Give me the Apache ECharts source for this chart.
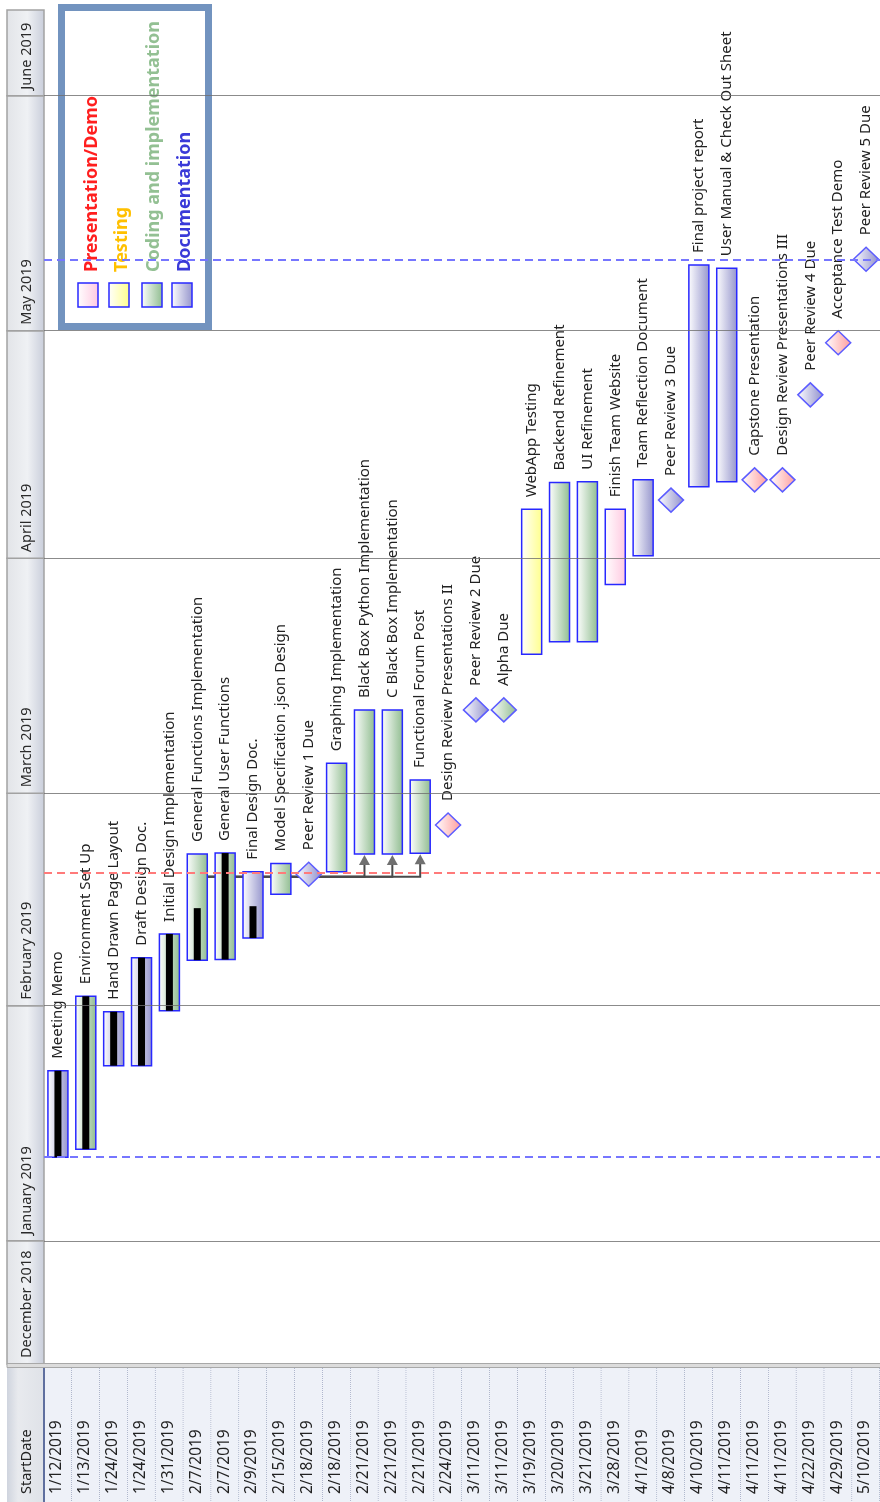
<!DOCTYPE html>
<html>
<head>
<meta charset="UTF-8">
<script src="https://cdn.jsdelivr.net/npm/echarts@6/dist/echarts.min.js"></script>
<style>
  html, body { margin: 0; padding: 0; background: #fff; }
  #main { width: 880px; height: 1502px; }
</style>
</head>
<body>
<div id="main"></div>
<script>
// ---- data ----
var taskNames = [
  'Meeting Memo', 'Environment Set Up', 'Hand Drawn Page Layout', 'Draft Design Doc.',
  'Initial Design Implementation', 'General Functions Implementation', 'General User Functions',
  'Final Design Doc.', 'Model Specification .json Design', 'Peer Review 1 Due',
  'Graphing Implementation', 'Black Box Python Implementation', 'C Black Box Implementation',
  'Functional Forum Post', 'Design Review Presentations II', 'Peer Review 2 Due', 'Alpha Due',
  'WebApp Testing', 'Backend Refinement', 'UI Refinement', 'Finish Team Website',
  'Team Reflection Document', 'Peer Review 3 Due', 'Final project report',
  'User Manual & Check Out Sheet', 'Capstone Presentation', 'Design Review Presentations III',
  'Peer Review 4 Due', 'Acceptance Test Demo', 'Peer Review 5 Due'
];
var startLabels = [
  '1/12/2019', '1/13/2019', '1/24/2019', '1/24/2019', '1/31/2019', '2/7/2019', '2/7/2019',
  '2/9/2019', '2/15/2019', '2/18/2019', '2/18/2019', '2/21/2019', '2/21/2019', '2/21/2019',
  '2/24/2019', '3/11/2019', '3/11/2019', '3/19/2019', '3/20/2019', '3/21/2019', '3/28/2019',
  '4/1/2019', '4/8/2019', '4/10/2019', '4/11/2019', '4/11/2019', '4/11/2019', '4/22/2019',
  '4/29/2019', '5/10/2019'
];
var starts = [
  '2019-01-12 00:00', '2019-01-13 02:00', '2019-01-24 02:00', '2019-01-24 02:00', '2019-01-31 08:00',
  '2019-02-07 00:00', '2019-02-07 02:00', '2019-02-09 22:00', '2019-02-15 17:00', '2019-02-18 08:00',
  '2019-02-18 16:00', '2019-02-21 00:00', '2019-02-21 00:00', '2019-02-21 02:00', '2019-02-24 20:00',
  '2019-03-12 00:00', '2019-03-12 00:00', '2019-03-19 08:00', '2019-03-21 00:00', '2019-03-21 00:00',
  '2019-03-28 13:00', '2019-04-01 08:00', '2019-04-08 16:00', '2019-04-10 10:00', '2019-04-11 02:00',
  '2019-04-11 08:00', '2019-04-11 08:00', '2019-04-22 13:00', '2019-04-29 10:00', '2019-05-10 10:00'
];
var ends = [
  '2019-01-23 10:00', '2019-02-02 06:00', '2019-01-31 05:00', '2019-02-07 08:00', '2019-02-10 11:00',
  '2019-02-21 00:00', '2019-02-21 03:00', '2019-02-18 16:00', '2019-02-19 18:00', '2019-02-18 08:00',
  '2019-03-04 23:00', '2019-03-12 00:00', '2019-03-12 00:00', '2019-03-02 18:00', '2019-02-24 20:00',
  '2019-03-12 00:00', '2019-03-12 00:00', '2019-04-07 11:00', '2019-04-11 00:00', '2019-04-11 02:00',
  '2019-04-07 11:00', '2019-04-11 08:00', '2019-04-08 16:00', '2019-05-09 16:00', '2019-05-09 06:00',
  '2019-04-11 08:00', '2019-04-11 08:00', '2019-04-22 13:00', '2019-04-29 10:00', '2019-05-10 10:00'
];
// 'bar' = task, 'ms' = milestone
var kinds = [
  'bar', 'bar', 'bar', 'bar', 'bar', 'bar', 'bar', 'bar', 'bar', 'ms',
  'bar', 'bar', 'bar', 'bar', 'ms', 'ms', 'ms', 'bar', 'bar', 'bar',
  'bar', 'bar', 'ms', 'bar', 'bar', 'ms', 'ms', 'ms', 'ms', 'ms'
];
// index into legendNames
var groups = [
  3, 2, 3, 3, 2, 2, 2, 3, 2, 3,
  2, 2, 2, 2, 0, 3, 2, 1, 2, 2,
  0, 3, 3, 3, 3, 0, 0, 3, 0, 3
];
var progress = [100, 100, 100, 100, 100, 49, 100, 48, 0, 0,
  0, 0, 0, 0, 0, 0, 0, 0, 0, 0, 0, 0, 0, 0, 0, 0, 0, 0, 0, 0];
var legendNames = ['Presentation/Demo', 'Testing', 'Coding and implementation', 'Documentation'];
var monthNames = ['December 2018', 'January 2019', 'February 2019', 'March 2019', 'April 2019', 'May 2019', 'June 2019'];
var monthStarts = ['2018-12-01', '2019-01-01', '2019-02-01', '2019-03-01', '2019-04-01', '2019-05-01', '2019-06-01', '2019-07-01'];
var projectLines = ['2019-01-12 01:00', '2019-05-10 08:00'];
var todayLine = '2019-02-18 12:00';
var links = [[5, 11], [5, 12], [5, 13]];
var linkLevel = '2019-02-18 00:00';
var axisMin = '2018-12-15 18:00';
var axisMax = '2019-06-12 07:00';

// ---- helpers ----
function t(s) {
  var p = s.split(/[- :]/);
  return new Date(+p[0], p[1] - 1, +p[2], +(p[3] || 0), +(p[4] || 0)).getTime();
}
var FONT = '"Noto Sans", "Open Sans", sans-serif';
var fillColors = ['#ffc8e0', '#ffff8a', '#8fbc8f', '#9494cc'];
var diamondColors = ['#ff9c9c', '#ffff8a', '#8fbc8f', '#8e8ecc'];
var textColors = ['#ff1f1f', '#ffc000', '#93c093', '#3a3ad8'];

function grad(c) {
  return new echarts.graphic.LinearGradient(0, 0, 1, 0, [
    { offset: 0, color: '#ffffff' }, { offset: 1, color: c }
  ]);
}
function rotText(x, y, text, size, color, weight) {
  return {
    type: 'text', x: x, y: y, rotation: Math.PI / 2,
    style: {
      text: text, fill: color, fontSize: size, fontFamily: FONT,
      fontWeight: weight || 'normal', align: 'left', verticalAlign: 'middle'
    }
  };
}

var chart = echarts.init(document.getElementById('main'));

function renderTask(params, api) {
  var i = api.value(0);
  var top = api.coord([i, api.value(2)]);
  var bot = api.coord([i, api.value(1)]);
  var x = top[0];
  var kids = [];
  var labelY;
  if (kinds[i] === 'ms') {
    var yc = top[1];
    kids.push({
      type: 'polygon',
      shape: { points: [[x, yc - 12], [x + 12.5, yc], [x, yc + 12], [x - 12.5, yc]] },
      style: { fill: grad(diamondColors[groups[i]]), stroke: '#5c5cff', lineWidth: 1.5 }
    });
    labelY = yc - 24;
  } else {
    var h = bot[1] - top[1];
    kids.push({
      type: 'rect', shape: { x: x - 10, y: top[1], width: 20, height: h },
      style: { fill: grad(fillColors[groups[i]]), stroke: '#2828ff', lineWidth: 1.5 }
    });
    if (progress[i] > 0) {
      var ph = h * progress[i] / 100;
      kids.push({
        type: 'rect', shape: { x: x - 3.5, y: bot[1] - ph, width: 7, height: ph },
        style: { fill: '#000' }
      });
    }
    labelY = top[1] - 12;
  }
  kids.push(rotText(x, labelY, taskNames[i], 15, '#222'));
  return { type: 'group', children: kids };
}

function renderLink(params, api) {
  var p0 = api.coord([api.value(0), api.value(2)]);
  var p1 = api.coord([api.value(1), api.value(2)]);
  var tip = api.coord([api.value(1), api.value(3)]);
  return {
    type: 'group', children: [
      {
        type: 'polyline',
        shape: { points: [[p0[0] + 10, p0[1]], [p1[0], p0[1]], [p1[0], tip[1] + 9]] },
        style: { stroke: '#4a4a4a', lineWidth: 2, fill: null }
      },
      {
        type: 'polygon',
        shape: { points: [[tip[0], tip[1] + 1], [tip[0] + 5.5, tip[1] + 11], [tip[0] - 5.5, tip[1] + 11]] },
        style: { fill: '#707070' }
      }
    ]
  };
}

function renderMonth(params, api) {
  var cs = params.coordSys;
  var yA = api.coord([0, api.value(1)])[1];
  var yB = api.coord([0, api.value(2)])[1];
  var y0 = Math.min(yA, cs.y + cs.height);
  var y1 = Math.max(yB, cs.y);
  return {
    type: 'group', children: [
      {
        type: 'rect', shape: { x: cs.x, y: y1, width: cs.width, height: y0 - y1 },
        style: {
          fill: new echarts.graphic.LinearGradient(0, 0, 1, 0, [
            { offset: 0, color: '#e2e4e8' }, { offset: 0.55, color: '#eff1f4' }, { offset: 1, color: '#c8cdda' }
          ]),
          stroke: '#a2a2a2', lineWidth: 1.5
        }
      },
      rotText(cs.x + cs.width / 2 + 1, y0 - 6, monthNames[api.value(3)], 14.5, '#2a2a2a')
    ]
  };
}

function renderCell(params, api) {
  var cs = params.coordSys;
  var i = api.value(0);
  var c = api.coord([i, 0]);
  var w = api.size([1, 0])[0];
  return {
    type: 'group', children: [
      { type: 'rect', shape: { x: c[0] - w / 2, y: cs.y, width: w, height: cs.height }, style: { fill: '#eef1f8' } },
      {
        type: 'line', shape: { x1: c[0] + w / 2, y1: cs.y, x2: c[0] + w / 2, y2: cs.y + cs.height },
        style: { stroke: '#7b87a8', lineWidth: 1, lineDash: [1, 1] }
      },
      rotText(c[0] - 1, cs.y + cs.height - 8, startLabels[i], 15.5, '#222')
    ]
  };
}

var legendChildren = [{
  type: 'rect', shape: { x: 61.5, y: 7.5, width: 147, height: 319 },
  style: { fill: '#fff', stroke: '#7293bf', lineWidth: 7 }
}];
var legendX = [92, 122, 154, 185];
var swatchX = [78, 109, 142, 172];
legendNames.forEach(function (n, k) {
  legendChildren.push({
    type: 'text', x: legendX[k], y: 272, rotation: Math.PI / 2,
    style: {
      text: n, fill: textColors[k], fontSize: 18, fontWeight: 'bold', fontFamily: FONT,
      align: 'left', verticalAlign: 'middle'
    }
  });
  legendChildren.push({
    type: 'rect', shape: { x: swatchX[k], y: 283, width: 20, height: 24 },
    style: { fill: grad(fillColors[k]), stroke: '#2828ff', lineWidth: 1.5 }
  });
});

var option = {
  animation: false,
  backgroundColor: '#ffffff',
  grid: [
    { left: 44, top: 10, width: 837, height: 1354 },
    { left: 7, top: 10, width: 37, height: 1354 },
    { left: 44, top: 1368, width: 837, height: 134 }
  ],
  xAxis: [
    { type: 'category', data: taskNames, gridIndex: 0, show: false },
    { type: 'value', gridIndex: 1, min: 0, max: 1, show: false },
    { type: 'category', data: taskNames, gridIndex: 2, show: false }
  ],
  yAxis: [
    { type: 'time', gridIndex: 0, min: t(axisMin), max: t(axisMax), show: false, splitLine: { show: false } },
    { type: 'time', gridIndex: 1, min: t(axisMin), max: t(axisMax), show: false, splitLine: { show: false } },
    { type: 'value', gridIndex: 2, min: 0, max: 1, show: false, splitLine: { show: false } }
  ],
  graphic: [
    {
      type: 'rect', z: 50, shape: { x: 7, y: 1363.5, width: 874, height: 4 },
      style: { fill: '#dcdcdc', stroke: '#a8a8a8', lineWidth: 1 }
    },
    {
      type: 'rect', z: 50, shape: { x: 7, y: 1368, width: 37, height: 134 },
      style: {
        fill: new echarts.graphic.LinearGradient(0, 0, 1, 0, [
          { offset: 0, color: '#cfd4de' }, { offset: 0.3, color: '#e8eaee' }, { offset: 1, color: '#dfe2e8' }
        ])
      }
    },
    {
      type: 'line', z: 51, shape: { x1: 44, y1: 1368, x2: 44, y2: 1502 },
      style: { stroke: '#5f6f9f', lineWidth: 2 }
    },
    {
      type: 'text', z: 52, x: 27, y: 1494, rotation: Math.PI / 2,
      style: { text: 'StartDate', fill: '#222', fontSize: 14.5, fontFamily: FONT, align: 'left', verticalAlign: 'middle' }
    },
    { type: 'group', z: 100, children: legendChildren }
  ],
  series: [
    {
      type: 'line', xAxisIndex: 0, yAxisIndex: 0, data: [], z: 1,
      markLine: {
        silent: true, symbol: 'none', label: { show: false },
        data: projectLines.map(function (d) {
          return { yAxis: t(d), lineStyle: { color: '#7676ff', width: 2, type: [8, 5] } };
        }).concat([{ yAxis: t(todayLine), lineStyle: { color: '#ff7a7a', width: 2, type: [8, 5] } }])
      }
    },
    {
      type: 'custom', xAxisIndex: 0, yAxisIndex: 0, z: 2, clip: false,
      renderItem: renderLink,
      encode: { x: 0, y: 2 },
      data: links.map(function (l) { return [l[0], l[1], t(linkLevel), t(starts[l[1]])]; })
    },
    {
      type: 'custom', xAxisIndex: 0, yAxisIndex: 0, z: 3, clip: false,
      renderItem: renderTask,
      encode: { x: 0, y: [1, 2] },
      data: taskNames.map(function (n, i) { return [i, t(starts[i]), t(ends[i])]; })
    },
    {
      type: 'line', xAxisIndex: 0, yAxisIndex: 0, data: [], z: 5,
      markLine: {
        silent: true, symbol: 'none', label: { show: false },
        lineStyle: { color: '#6e6e6e', width: 1, type: 'solid', opacity: 0.8 },
        data: monthStarts.slice(1, monthStarts.length - 1).map(function (d) { return { yAxis: t(d) }; })
      }
    },
    {
      type: 'custom', xAxisIndex: 1, yAxisIndex: 1, z: 2, clip: false,
      renderItem: renderMonth,
      encode: { x: 0, y: [1, 2] },
      data: monthNames.map(function (n, i) { return [0, t(monthStarts[i]), t(monthStarts[i + 1]), i]; })
    },
    {
      type: 'custom', xAxisIndex: 2, yAxisIndex: 2, z: 2, clip: false,
      renderItem: renderCell,
      encode: { x: 0, y: 1 },
      data: startLabels.map(function (s, i) { return [i, 0]; })
    }
  ]
};

chart.setOption(option);
</script>
</body>
</html>
